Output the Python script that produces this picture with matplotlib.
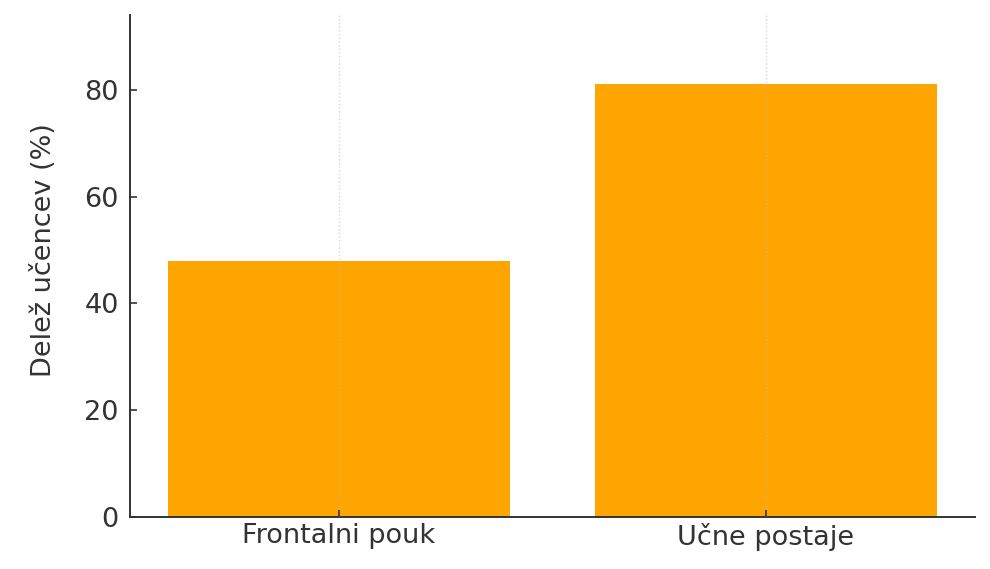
import matplotlib
matplotlib.use("Agg")
import matplotlib.pyplot as plt

categories = ["Frontalni pouk", "Učne postaje"]
shares = [48, 81]

plt.rcParams['font.family'] = ['DejaVu Sans']
fig, ax = plt.subplots(figsize=(9.9, 5.69), dpi=100)
fig.subplots_adjust(left=0.131, right=0.985, bottom=0.091, top=0.974)

ax.bar(categories, shares, width=0.8, color="orange", zorder=2)
ax.set_ylim(0, 94)
ax.set_yticks([0, 20, 40, 60, 80])
ax.set_ylabel("Delež učencev (%)", fontsize=19.5, color="#333333")
ax.yaxis.set_label_coords(-0.086, 0.532)

ax.grid(axis="x", linestyle=":", color="#bbbbbb", linewidth=1, alpha=0.6, zorder=3)
ax.set_axisbelow(False)
for s in ["top", "right"]:
    ax.spines[s].set_visible(False)
for s in ["left", "bottom"]:
    ax.spines[s].set_color("#333333")
    ax.spines[s].set_linewidth(1.4)
ax.tick_params(axis="both", direction="in", length=5, width=1.2, color="#333333",
               labelsize=19.5, labelcolor="#333333")
ax.tick_params(axis="y", pad=8)
ax.tick_params(axis="x", pad=4)

fig.savefig("out.png")
